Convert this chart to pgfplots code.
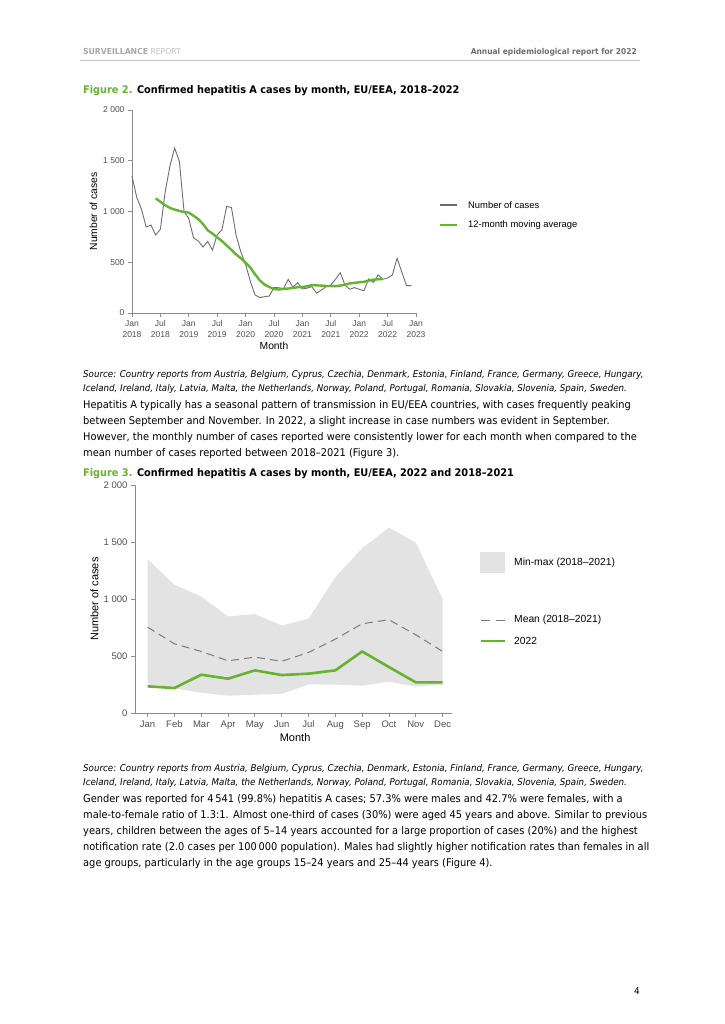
\documentclass[border=0pt]{standalone}
\usepackage{fontspec}
\setmainfont{DejaVu Sans}[FakeStretch=0.93]
\newfontfamily\chartfont{Liberation Sans}
\usepackage{pgfplots}
\pgfplotsset{compat=1.18}

\definecolor{ecdcgreen}{HTML}{65B32E}
\definecolor{linegray}{HTML}{6E6E6E}
\definecolor{bandgray}{HTML}{E3E3E3}
\definecolor{meangray}{HTML}{7A7A7A}
\definecolor{axgray}{HTML}{8C8C8C}
\definecolor{tickgray}{HTML}{505050}
\definecolor{headgray}{HTML}{A8A8A8}
\definecolor{headlight}{HTML}{C4C4C4}
\definecolor{headdark}{HTML}{6E6E6E}

\newcommand\bodyfont{\fontsize{10.6}{16}\selectfont}
\newcommand\srcfont{\fontsize{9.35}{14}\selectfont\itshape}
\newcommand\titlefont{\fontsize{10.5}{14}\selectfont\bfseries}

\begin{document}
\begin{tikzpicture}
\path[fill=white,use as bounding box] (0pt,0pt) rectangle (724pt,-1024pt);

% page header
\node[anchor=base west,inner sep=0,font=\fontsize{8.27}{10}\selectfont] at (83pt,-55pt)
  {\textcolor{headgray}{\bfseries SURVEILLANCE} \textcolor{headlight}{REPORT}};
\node[anchor=base east,inner sep=0,font=\fontsize{8.05}{10}\selectfont\bfseries,text=headdark] at (637pt,-55pt)
  {Annual epidemiological report for 2022};
\draw[headlight,line width=0.6pt] (80pt,-60pt) -- (640pt,-60pt);

% figure 2 title
\node[anchor=base west,inner sep=0,font=\titlefont] at (83pt,-94pt)
  {\textcolor{ecdcgreen}{Figure 2.} Confirmed hepatitis A cases by month, EU/EEA, 2018--2022};

% figure 2: monthly cases 2018-2022
\begin{axis}[
    at={(132pt,-313pt)}, anchor=south west,
    scale only axis, width=284pt, height=203pt,
    xmin=0, xmax=60, ymin=0, ymax=2000,
    axis x line=bottom, axis y line=left,
    axis line style={-, draw=axgray, line width=0.8pt},
    tick style={draw=axgray, line width=0.8pt},
    tick align=outside, major tick length=4pt,
    xtick={0,6,...,60},
    xticklabels={Jan\\2018,Jul\\2018,Jan\\2019,Jul\\2019,Jan\\2020,Jul\\2020,
                 Jan\\2021,Jul\\2021,Jan\\2022,Jul\\2022,Jan\\2023},
    xticklabel style={align=center, font=\chartfont\fontsize{8.5}{11}\selectfont, text=tickgray},
    ytick={0,500,1000,1500,2000},
    yticklabels={0,500,1 000,1 500,2 000},
    yticklabel style={font=\chartfont\fontsize{8.5}{10}\selectfont, text=tickgray},
    xlabel={Month}, ylabel={Number of cases},
    xlabel style={at={(axis description cs:0.5,-0.163)}, anchor=center,
                  font=\chartfont\fontsize{10.3}{12}\selectfont},
    ylabel style={at={(axis description cs:-0.136,0.5)}, anchor=center,
                  font=\chartfont\fontsize{10.3}{12}\selectfont},
    clip=false,
]
\addplot[color=linegray, line width=0.9pt] coordinates {
 (0,1349) (1,1140) (2,1022) (3,847) (4,867) (5,768) (6,826) (7,1191) (8,1445) (9,1626) (10,1495) (11,999)
 (12,930) (13,740) (14,710) (15,650) (16,705) (17,620) (18,771) (19,820) (20,1050) (21,1040) (22,765) (23,600)
 (24,480) (25,311) (26,178) (27,152) (28,161) (29,167) (30,251) (31,249) (32,240) (33,331) (34,255) (35,300)
 (36,237) (37,245) (38,260) (39,195) (40,226) (41,259) (42,276) (43,332) (44,397) (45,275) (46,234) (47,250)
 (48,234) (49,219) (50,336) (51,301) (52,374) (53,333) (54,345) (55,374) (56,540) (57,403) (58,269) (59,269)
};
\addplot[color=ecdcgreen, line width=2.4pt, line join=round] coordinates {
 (5,1130) (6,1095) (7,1062) (8,1036) (9,1019) (10,1006) (11,994) (12,989) (13,958) (14,925)
 (15,876) (16,815) (17,782) (18,745) (19,709) (20,665) (21,622) (22,577) (23,539) (24,496)
 (25,448) (26,381) (27,322) (28,280) (29,256) (30,236) (31,231) (32,238) (33,241) (34,247)
 (35,254) (36,256) (37,263) (38,276) (39,272) (40,270) (41,266) (42,266) (43,264) (44,270)
 (45,279) (46,291) (47,297) (48,303) (49,307) (50,319) (51,329) (52,332) (53,333)
};
\end{axis}

% figure 2 legend
\draw[linegray,line width=2pt] (440pt,-205pt) -- (457pt,-205pt);
\node[anchor=west,inner sep=0,font=\chartfont\fontsize{9.4}{11}\selectfont] at (468pt,-205pt) {Number of cases};
\draw[ecdcgreen,line width=2pt] (440pt,-225pt) -- (457pt,-225pt);
\node[anchor=west,inner sep=0,font=\chartfont\fontsize{9.4}{11}\selectfont] at (468pt,-225pt) {12-month moving average};

% source 1 and paragraph 1
\node[anchor=base west,inner sep=0,font=\srcfont] at (83pt,-377pt)
  {Source: Country reports from Austria, Belgium, Cyprus, Czechia, Denmark, Estonia, Finland, France, Germany, Greece, Hungary,};
\node[anchor=base west,inner sep=0,font=\srcfont] at (83pt,-391pt)
  {Iceland, Ireland, Italy, Latvia, Malta, the Netherlands, Norway, Poland, Portugal, Romania, Slovakia, Slovenia, Spain, Sweden.};

\node[anchor=base west,inner sep=0,font=\bodyfont] at (83pt,-408pt)
  {Hepatitis A typically has a seasonal pattern of transmission in EU/EEA countries, with cases frequently peaking};
\node[anchor=base west,inner sep=0,font=\bodyfont] at (83pt,-424pt)
  {between September and November. In 2022, a slight increase in case numbers was evident in September.};
\node[anchor=base west,inner sep=0,font=\bodyfont] at (83pt,-440pt)
  {However, the monthly number of cases reported were consistently lower for each month when compared to the};
\node[anchor=base west,inner sep=0,font=\bodyfont] at (83pt,-456pt)
  {mean number of cases reported between 2018--2021 (Figure 3).};

% figure 3 title
\node[anchor=base west,inner sep=0,font=\titlefont] at (83pt,-476pt)
  {\textcolor{ecdcgreen}{Figure 3.} Confirmed hepatitis A cases by month, EU/EEA, 2022 and 2018--2021};

% figure 3: 2022 against 2018-2021
\begin{axis}[
    at={(135pt,-713pt)}, anchor=south west,
    scale only axis, width=317pt, height=228pt,
    xmin=-0.47, xmax=11.35, ymin=0, ymax=2000,
    axis x line=bottom, axis y line=left,
    axis line style={-, draw=axgray, line width=0.8pt},
    tick style={draw=axgray, line width=0.8pt},
    tick align=outside, major tick length=4pt,
    xtick={0,...,11},
    xticklabels={Jan,Feb,Mar,Apr,May,Jun,Jul,Aug,Sep,Oct,Nov,Dec},
    xticklabel style={font=\chartfont\fontsize{9.5}{11}\selectfont, text=tickgray},
    ytick={0,500,1000,1500,2000},
    yticklabels={0,500,1 000,1 500,2 000},
    yticklabel style={font=\chartfont\fontsize{9.5}{11}\selectfont, text=tickgray},
    xlabel={Month}, ylabel={Number of cases},
    xlabel style={at={(axis description cs:0.505,-0.107)}, anchor=center,
                  font=\chartfont\fontsize{11}{13}\selectfont},
    ylabel style={at={(axis description cs:-0.128,0.5)}, anchor=center,
                  font=\chartfont\fontsize{11}{13}\selectfont},
    clip=false,
]
% min-max band 2018-2021
\addplot[fill=bandgray, draw=none] coordinates {
 (0,1349) (1,1124) (2,1022) (3,847) (4,867) (5,768) (6,826) (7,1191) (8,1445) (9,1626) (10,1495) (11,999)
 (11,249) (10,231) (9,275) (8,240) (7,249) (6,251) (5,167) (4,161) (3,152) (2,178) (1,216) (0,237)
} -- cycle;
% mean 2018-2021
\addplot[color=meangray, line width=1pt, dash pattern=on 8pt off 5pt] coordinates {
 (0,753) (1,607) (2,540) (3,458) (4,490) (5,453) (6,531) (7,648) (8,783) (9,818) (10,686) (11,540)
};
% 2022
\addplot[color=ecdcgreen, line width=2.6pt, line join=round] coordinates {
 (0,234) (1,219) (2,336) (3,301) (4,374) (5,333) (6,345) (7,374) (8,540) (9,403) (10,269) (11,269)
};
\end{axis}

% figure 3 legend
\fill[bandgray] (480pt,-552pt) rectangle (505pt,-573pt);
\node[anchor=west,inner sep=0,font=\chartfont\fontsize{10.3}{12}\selectfont] at (514pt,-563pt) {Min-max (2018–2021)};
\draw[meangray,line width=1pt,dash pattern=on 9pt off 6pt] (481pt,-620pt) -- (505pt,-620pt);
\node[anchor=west,inner sep=0,font=\chartfont\fontsize{10.3}{12}\selectfont] at (514pt,-620pt) {Mean (2018–2021)};
\draw[ecdcgreen,line width=2.6pt] (481pt,-641pt) -- (505pt,-641pt);
\node[anchor=west,inner sep=0,font=\chartfont\fontsize{10.3}{12}\selectfont] at (514pt,-641pt) {2022};

% source 2 and paragraph 2
\node[anchor=base west,inner sep=0,font=\srcfont] at (83pt,-771pt)
  {Source: Country reports from Austria, Belgium, Cyprus, Czechia, Denmark, Estonia, Finland, France, Germany, Greece, Hungary,};
\node[anchor=base west,inner sep=0,font=\srcfont] at (83pt,-785pt)
  {Iceland, Ireland, Italy, Latvia, Malta, the Netherlands, Norway, Poland, Portugal, Romania, Slovakia, Slovenia, Spain, Sweden.};

\node[anchor=base west,inner sep=0,font=\bodyfont] at (83pt,-802pt)
  {Gender was reported for 4\,541 (99.8\%) hepatitis A cases; 57.3\% were males and 42.7\% were females, with a};
\node[anchor=base west,inner sep=0,font=\bodyfont] at (83pt,-818pt)
  {male-to-female ratio of 1.3:1. Almost one-third of cases (30\%) were aged 45 years and above. Similar to previous};
\node[anchor=base west,inner sep=0,font=\bodyfont] at (83pt,-834pt)
  {years, children between the ages of 5--14 years accounted for a large proportion of cases (20\%) and the highest};
\node[anchor=base west,inner sep=0,font=\bodyfont] at (83pt,-850pt)
  {notification rate (2.0 cases per 100\,000 population). Males had slightly higher notification rates than females in all};
\node[anchor=base west,inner sep=0,font=\bodyfont] at (83pt,-866pt)
  {age groups, particularly in the age groups 15--24 years and 25--44 years (Figure 4).};

% page number
\node[anchor=base east,inner sep=0,font=\fontsize{9.5}{11}\selectfont] at (640pt,-994pt) {4};
\end{tikzpicture}
\end{document}
